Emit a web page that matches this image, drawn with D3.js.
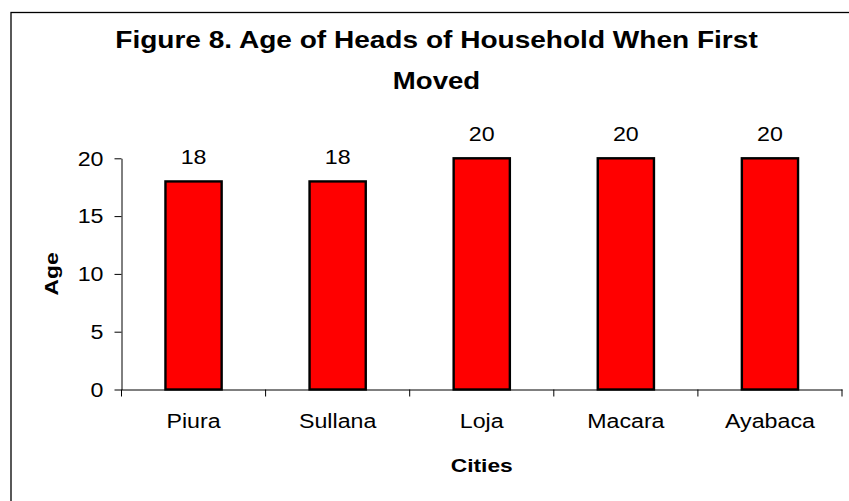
<!DOCTYPE html>
<html>
<head>
<meta charset="utf-8">
<script src="https://cdn.jsdelivr.net/npm/d3@7"></script>
<style>
  html, body { margin: 0; padding: 0; background: #fff; }
  svg { display: block; }
  text { font-family: "Liberation Sans", Arial, sans-serif; fill: #000; }
</style>
</head>
<body>
<svg id="chart" width="849" height="501"></svg>
<script>
// ---- data ----
const categories = ["Piura", "Sullana", "Loja", "Macara", "Ayabaca"];
const ages = [18, 18, 20, 20, 20];
const yTicks = [0, 5, 10, 15, 20];
const titleLines = ["Figure 8. Age of Heads of Household When First", "Moved"];
const xTitle = "Cities";
const yTitle = "Age";

// ---- layout ----
const W = 849, H = 501;
const plot = { left: 121.5, right: 842, top: 158.3, bottom: 389.5 };
const SX = 1.19;       // horizontal glyph stretch of the reference text
const FS = 19.5;       // tick / label font size

const svg = d3.select("#chart");
svg.append("rect").attr("width", W).attr("height", H).attr("fill", "#fff");

// chart-area border (cropped at right and bottom in the reference)
svg.append("rect")
  .attr("x", 11).attr("y", 12.5)
  .attr("width", 900).attr("height", 600)
  .attr("fill", "none").attr("stroke", "#000").attr("stroke-width", 1.3);

const x = d3.scaleBand().domain(categories).range([plot.left, plot.right]).padding(0);
const y = d3.scaleLinear().domain([0, 20]).range([plot.bottom, plot.top]);

function stretchedText(g, tx, ty, str, opts) {
  return g.append("text")
    .attr("transform", `translate(${tx},${ty})${opts.rotate ? " rotate(" + opts.rotate + ")" : ""} scale(${opts.sx || SX},1)`)
    .attr("text-anchor", opts.anchor || "middle")
    .attr("font-size", opts.size)
    .attr("font-weight", opts.bold ? "bold" : "normal")
    .text(str);
}

// title
const titleSX = [1.22, 1.2];
titleLines.forEach((line, i) => {
  stretchedText(svg, 436.5, 47.5 + i * 41, line, { size: 23, bold: true, sx: titleSX[i] });
});

// bars
const data = categories.map((c, i) => ({ c, v: ages[i] }));
const barW = x.bandwidth() * 0.39;
svg.append("g").selectAll("rect").data(data).join("rect")
  .attr("x", d => x(d.c) + (x.bandwidth() - barW) / 2)
  .attr("y", d => y(d.v))
  .attr("width", barW)
  .attr("height", d => y(0) - y(d.v))
  .attr("fill", "#FF0000")
  .attr("stroke", "#000")
  .attr("stroke-width", 2.4);

// y axis
const yAxis = d3.axisLeft(y).tickValues(yTicks).tickSize(7).tickSizeOuter(0).tickFormat(d3.format("d"));
const gy = svg.append("g").attr("transform", `translate(${plot.left},0)`).call(yAxis);
gy.select(".domain").attr("stroke", "#000").attr("stroke-width", 1);
gy.selectAll(".tick line").attr("stroke", "#000");
gy.selectAll(".tick text")
  .attr("x", null).attr("dy", null)
  .attr("font-family", null)
  .attr("font-size", FS)
  .attr("text-anchor", "end")
  .attr("dominant-baseline", "central")
  .attr("transform", `translate(-18,0.5) scale(${SX},1)`);

// x axis
const xAxis = d3.axisBottom(x).tickSize(0).tickSizeOuter(0).tickPadding(0);
const gx = svg.append("g").attr("transform", `translate(0,${plot.bottom})`).call(xAxis);
gx.select(".domain").attr("stroke", "#000").attr("stroke-width", 1);
gx.selectAll(".tick text")
  .attr("y", null).attr("dy", null)
  .attr("font-family", null)
  .attr("font-size", FS)
  .attr("transform", `translate(0,38.5) scale(${SX},1)`);
// boundary tick marks between categories
const bounds = categories.map(c => x(c)).concat([x.range()[1]]);
gx.append("g").selectAll("line").data(bounds).join("line")
  .attr("x1", d => d).attr("x2", d => d)
  .attr("y1", 0).attr("y2", 7)
  .attr("stroke", "#000").attr("stroke-width", 1);

// value labels
svg.append("g").selectAll("text").data(data).join("text")
  .attr("transform", d => `translate(${x(d.c) + x.bandwidth() / 2},${y(d.v) - 17.5}) scale(${SX},1)`)
  .attr("text-anchor", "middle")
  .attr("font-size", FS)
  .text(d => d.v);

// axis titles
stretchedText(svg, (plot.left + plot.right) / 2, 472, xTitle, { size: 19, bold: true, sx: 1.2 });
stretchedText(svg, 57.5, (plot.top + plot.bottom) / 2, yTitle, { size: 19, bold: true, sx: 1.2, rotate: -90 });
</script>
</body>
</html>
